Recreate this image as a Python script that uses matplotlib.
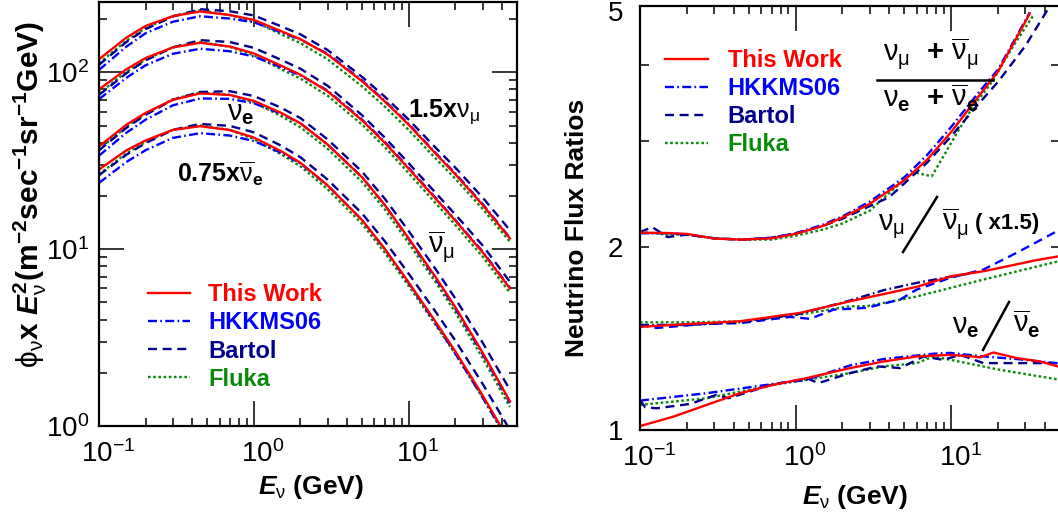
import matplotlib
matplotlib.use('Agg')
import matplotlib.pyplot as plt
from matplotlib.lines import Line2D
from matplotlib.ticker import FixedLocator, FixedFormatter, NullLocator, LogLocator
import matplotlib.transforms as mtrans

plt.rcParams['font.family'] = ['Liberation Sans', 'DejaVu Sans']
plt.rcParams['mathtext.fontset'] = 'custom'
plt.rcParams['mathtext.rm'] = 'Liberation Sans'
plt.rcParams['mathtext.it'] = 'Liberation Sans:italic:bold'
plt.rcParams['mathtext.bf'] = 'Liberation Sans:bold'
plt.rcParams['mathtext.default'] = 'rm'

# ---------------- data : left panel (phi x E^2) ----------------
E_flux = [0.1, 0.15, 0.2, 0.3, 0.45, 0.7, 1, 1.5, 2, 3, 5, 7, 10, 15, 20, 30, 45]

numu15_this   = [118.6, 157, 183, 208, 221, 211, 198, 171, 154, 126, 89, 68.5, 50.5, 34.5, 26.5, 17.8, 11.5]
numu15_hkkms  = [103.2, 139.7, 166.5, 193.4, 207.7, 201.5, 192.1, 168.4, 153.2, 127.3, 89.9, 69.2, 51.0, 34.8, 26.8, 18.0, 11.6]
numu15_bartol = [110.3, 148.4, 175.7, 207.0, 227.6, 221.6, 209.9, 182.1, 164.0, 133.6, 94.3, 72.9, 54.0, 37.3, 28.9, 19.6, 12.8]
numu15_fluka  = [112.7, 150.7, 178.4, 208, 224.3, 211, 194.0, 164.2, 146.3, 118.4, 83.2, 64.1, 47.2, 32.4, 25.0, 16.9, 11.0]

anumu_this   = [80.1, 104, 120.5, 138.5, 147, 140, 128, 109, 97, 78, 53.5, 40.0, 28.5, 19.2, 14.5, 9.6, 6.0]
anumu_hkkms  = [70.5, 93.1, 109.7, 127.4, 136.0, 131.6, 122.9, 106.8, 96.0, 78.8, 54.0, 40.4, 28.8, 19.4, 14.6, 9.7, 6.06]
anumu_bartol = [74.5, 98.8, 116.9, 138.5, 152.1, 148.4, 137.6, 117.7, 104.8, 83.9, 57.2, 42.8, 30.6, 20.7, 15.7, 10.5, 6.54]
anumu_fluka  = [76.1, 100.4, 118.1, 138.5, 148.5, 139.3, 124.8, 104.1, 92.2, 73.7, 50.6, 37.8, 26.9, 18.1, 13.7, 9.07, 5.67]

nue_this   = [38.1, 50.5, 59, 70, 76, 74.5, 69, 59, 51.5, 39, 25.5, 17.8, 11.5, 6.9, 4.7, 2.6, 1.38]
nue_hkkms  = [33.8, 45.5, 54.0, 65.1, 71.2, 70.8, 66.9, 58.4, 51.5, 39, 25.5, 17.8, 11.4, 6.76, 4.61, 2.55, 1.35]
nue_bartol = [36.2, 48.5, 57.5, 70, 77.5, 78.2, 73.5, 63.1, 55.1, 41.7, 27.4, 19.3, 12.65, 7.65, 5.26, 2.96, 1.60]
nue_fluka  = [36.6, 49.2, 58.4, 70.4, 77.1, 74.5, 67.6, 56.6, 48.9, 36.9, 24.0, 16.8, 10.8, 6.45, 4.39, 2.42, 1.28]

anue075_this   = [28.2, 36.2, 41.2, 47.3, 49.6, 47.2, 42.8, 35.8, 30.8, 22.9, 14.6, 10.05, 6.48, 3.85, 2.64, 1.49, 0.81]
anue075_hkkms  = [23.7, 31.1, 36.3, 42.6, 45.3, 43.9, 40.9, 35.1, 30.5, 22.9, 14.6, 10.0, 6.42, 3.77, 2.57, 1.45, 0.79]
anue075_bartol = [26.2, 34.2, 39.8, 47.3, 51.1, 49.8, 45.8, 38.5, 33.1, 24.7, 15.9, 11.1, 7.26, 4.39, 3.04, 1.73, 0.95]
anue075_fluka  = [26.5, 34.8, 40.4, 47.3, 50.1, 47.2, 41.9, 34.4, 29.4, 21.8, 13.9, 9.55, 6.19, 3.70, 2.55, 1.45, 0.79]

# ---------------- data : right panel (ratios) ----------------
# (numu + anumu) / (nue + anue)
E_rt_this = [0.1, 0.15, 0.2, 0.3, 0.45, 0.7, 1, 1.5, 2, 3, 5, 7, 10, 15, 20, 32]
rt_this   = [2.115, 2.112, 2.105, 2.068, 2.06, 2.07, 2.105, 2.17, 2.24, 2.36, 2.58, 2.79, 3.1, 3.55, 3.9, 4.86]
E_rt_hkkms = [0.1, 0.15, 0.2, 0.3, 0.45, 0.7, 1, 1.5, 2, 3, 5, 7, 10, 15, 20, 32]
rt_hkkms   = [2.11, 2.11, 2.1, 2.07, 2.06, 2.075, 2.11, 2.18, 2.25, 2.38, 2.61, 2.84, 3.16, 3.6, 3.93, 4.88]
E_rt_bartol = [0.1, 0.12, 0.15, 0.2, 0.3, 0.45, 0.7, 1, 1.5, 2, 3, 4, 5, 7, 10, 15, 20, 30, 42]
rt_bartol   = [2.12, 2.16, 2.08, 2.1, 2.07, 2.06, 2.075, 2.11, 2.17, 2.23, 2.34, 2.42, 2.55, 2.76, 3.05, 3.45, 3.75, 4.3, 4.95]
E_rt_fluka = [0.1, 0.15, 0.2, 0.3, 0.45, 0.7, 1, 1.5, 2, 3, 4.3, 5.7, 7.5, 10.9, 13.9, 18.3, 25.1, 33.8]
rt_fluka   = [2.12, 2.1, 2.1, 2.07, 2.06, 2.06, 2.09, 2.14, 2.19, 2.3, 2.5, 2.66, 2.62, 3.09, 3.42, 3.75, 4.30, 4.83]

# numu / anumu (x1.5)
E_rm_this = [0.1, 0.2, 0.44, 1.07, 2.24, 3.67, 6.0, 10, 16.1, 25, 35, 50]
rm_this   = [1.479, 1.495, 1.511, 1.56, 1.63, 1.675, 1.722, 1.793, 1.827, 1.87, 1.905, 1.935]
E_rm_hkkms = [0.1, 0.2, 0.44, 1.07, 2.24, 3.67, 6.0, 9.86, 13]
rm_hkkms   = [1.49, 1.49, 1.505, 1.555, 1.635, 1.70, 1.748, 1.789, 1.81]
E_rm_bartol = [0.1, 0.128, 0.268, 0.44, 0.92, 1.24, 1.75, 2.87, 4.7, 6.0, 9.86, 16.1, 26.4, 50]
rm_bartol   = [1.49, 1.473, 1.497, 1.50, 1.536, 1.525, 1.579, 1.59, 1.641, 1.704, 1.782, 1.839, 1.96, 2.14]
E_rm_fluka = [0.1, 0.2, 0.44, 1.07, 2.24, 2.87, 6.0, 16.1, 50]
rm_fluka   = [1.505, 1.505, 1.51, 1.55, 1.6, 1.6, 1.66, 1.77, 1.90]

# nue / anue
E_re_this = [0.1, 0.164, 0.268, 0.44, 0.72, 1.18, 2.24, 3.67, 6.0, 9.86, 13.5, 15.4, 18.7, 26.4, 37.3, 50]
re_this   = [1.015, 1.052, 1.10, 1.15, 1.187, 1.218, 1.265, 1.297, 1.322, 1.33, 1.322, 1.318, 1.342, 1.314, 1.297, 1.27]
E_re_hkkms = [0.1, 0.268, 0.72, 1.18, 2.24, 3.67, 7.7, 9.86, 16.1, 26.4, 50]
re_hkkms   = [1.118, 1.15, 1.191, 1.21, 1.278, 1.309, 1.336, 1.34, 1.322, 1.309, 1.287]
E_re_bartol = [0.1, 0.108, 0.128, 0.21, 0.31, 0.37, 0.72, 1.2, 1.4, 2.24, 3.33, 4.7, 6.64, 8.9, 11.4, 16.1, 50]
re_bartol   = [1.12, 1.09, 1.086, 1.104, 1.143, 1.128, 1.19, 1.215, 1.195, 1.241, 1.273, 1.265, 1.322, 1.305, 1.33, 1.289, 1.289]
E_re_fluka = [0.1, 0.164, 0.268, 0.44, 0.72, 2.24, 3.67, 6.0, 7.7, 12.6, 20.4, 50]
re_fluka   = [1.10, 1.114, 1.128, 1.157, 1.187, 1.241, 1.273, 1.289, 1.322, 1.289, 1.257, 1.21]

models = ['This Work', 'HKKMS06', 'Bartol', 'Fluka']
colors = {'This Work': '#ff0000', 'HKKMS06': '#0000ff', 'Bartol': '#00008c', 'Fluka': '#0a8a0a'}
LW = 1.7
lstyles = {'This Work': '-', 'HKKMS06': (0, (3.8, 1.4, 0.7, 1.4)),
           'Bartol': (0, (3.8, 2.4)), 'Fluka': (0, (1.1, 1.1))}

W, H = 1058, 513
fig = plt.figure(figsize=(W / 100, H / 100), dpi=100)
TICKFS = 20


def P(x, y):
    return x / W, 1 - y / H


def axes_px(x0, y0, x1, y1):
    return fig.add_axes([x0 / W, 1 - y1 / H, (x1 - x0) / W, (y1 - y0) / H])


def style(ax, ylen_major=18, ylen_minor=6):
    for s in ax.spines.values():
        s.set_linewidth(1.6)
    ax.tick_params(axis='x', which='major', direction='in', length=18, width=1.1,
                   top=True, bottom=True, labelsize=TICKFS, pad=10)
    ax.tick_params(axis='x', which='minor', direction='in', length=6, width=1.1,
                   top=True, bottom=True)
    ax.tick_params(axis='y', which='major', direction='in', length=ylen_major, width=1.1,
                   left=True, right=True, labelsize=TICKFS)
    ax.tick_params(axis='y', which='minor', direction='in', length=ylen_minor, width=1.1,
                   left=True, right=True)


# ================= left panel =================
ax1 = axes_px(99, 2, 517, 426)
ax1.set_xscale('log')
ax1.set_yscale('log')
ax1.set_xlim(0.1, 50)
ax1.set_ylim(1, 250)

groups = [
    {'This Work': numu15_this, 'HKKMS06': numu15_hkkms, 'Bartol': numu15_bartol, 'Fluka': numu15_fluka},
    {'This Work': anumu_this, 'HKKMS06': anumu_hkkms, 'Bartol': anumu_bartol, 'Fluka': anumu_fluka},
    {'This Work': nue_this, 'HKKMS06': nue_hkkms, 'Bartol': nue_bartol, 'Fluka': nue_fluka},
    {'This Work': anue075_this, 'HKKMS06': anue075_hkkms, 'Bartol': anue075_bartol, 'Fluka': anue075_fluka},
]
handles = {}
for g in groups:
    for m in ['Fluka', 'Bartol', 'HKKMS06', 'This Work']:
        ln, = ax1.plot(E_flux, g[m], color=colors[m], ls=lstyles[m], lw=LW)
        handles[m] = ln

ax1.yaxis.set_minor_locator(LogLocator(base=10, subs=range(2, 10)))
ax1.xaxis.set_minor_locator(LogLocator(base=10, subs=range(2, 10)))
style(ax1)
ax1.tick_params(axis='y', pad=7)

ax1.set_xlabel(r'$\mathit{E}_{\nu}$' + ' (GeV)', fontsize=19, fontweight='bold')
ax1.xaxis.label.set_va('center')
ax1.xaxis.set_label_coords(0.507, -0.144)
ax1.set_ylabel(r'$\phi_{\nu}$' + 'x ' + r'$\mathit{E}_{\nu}^{\mathbf{2}}$' + '(m' + r'$^{\mathbf{-2}}$'
               + 'sec' + r'$^{\mathbf{-1}}$' + 'sr' + r'$^{\mathbf{-1}}$' + 'GeV)',
               fontsize=21.5, fontweight='bold')
ax1.yaxis.label.set_va('center')
ax1.yaxis.label.set_ha('center')
ax1.yaxis.set_label_coords(-0.165, 0.545)

leg1 = ax1.legend([handles[m] for m in models], models, loc='upper left',
                  bbox_to_anchor=(0.117, 0.337), frameon=False,
                  prop={'weight': 'bold', 'size': 17}, handlelength=1.8,
                  handletextpad=0.75, labelspacing=0.22, borderaxespad=0, borderpad=0,
                  labelcolor=[colors[m] for m in models])

fig.text(*P(408, 117), '1.5x' + r'$\nu_{\mu}$', fontsize=18, fontweight='bold', va='baseline')
fig.text(*P(428, 253), r'$\overline{\nu}_{\mu}$', fontsize=21, va='baseline')
fig.text(*P(227, 120), r'$\nu_{\mathbf{e}}$', fontsize=21, va='baseline')
fig.text(*P(177, 182), '0.75x' + r'$\overline{\nu}_{\mathbf{e}}$', fontsize=18, fontweight='bold', va='baseline')

# ================= right panel =================
ax2 = axes_px(640, 6, 1060, 430)
ax2.set_xscale('log')
ax2.set_yscale('log')
ax2.set_xlim(0.1, 50)
ax2.set_ylim(1, 5)

tops = {'This Work': (E_rt_this, rt_this), 'HKKMS06': (E_rt_hkkms, rt_hkkms),
        'Bartol': (E_rt_bartol, rt_bartol), 'Fluka': (E_rt_fluka, rt_fluka)}
mids = {'This Work': (E_rm_this, rm_this), 'HKKMS06': (E_rm_hkkms, rm_hkkms),
        'Bartol': (E_rm_bartol, rm_bartol), 'Fluka': (E_rm_fluka, rm_fluka)}
bots = {'This Work': (E_re_this, re_this), 'HKKMS06': (E_re_hkkms, re_hkkms),
        'Bartol': (E_re_bartol, re_bartol), 'Fluka': (E_re_fluka, re_fluka)}
for grp, swap in [(tops, False), (mids, True), (bots, False)]:
    for m in ['Fluka', 'Bartol', 'HKKMS06', 'This Work']:
        c = colors[m]
        if swap and m == 'HKKMS06':
            c = colors['Bartol']
        if swap and m == 'Bartol':
            c = colors['HKKMS06']
        ax2.plot(grp[m][0], grp[m][1], color=c, ls=lstyles[m], lw=LW)

ax2.xaxis.set_minor_locator(LogLocator(base=10, subs=range(2, 10)))
ax2.yaxis.set_major_locator(FixedLocator([1, 2, 3, 4, 5]))
ax2.yaxis.set_major_formatter(FixedFormatter(['1', '2', '', '', '5']))
ax2.yaxis.set_minor_locator(NullLocator())
style(ax2, ylen_major=6.5)
ax2.tick_params(axis='y', pad=12)

ax2.set_xlabel(r'$\mathit{E}_{\nu}$' + ' (GeV)', fontsize=19, fontweight='bold')
ax2.xaxis.label.set_va('center')
ax2.xaxis.set_label_coords(0.512, -0.158)
ax2.set_ylabel('Neutrino Flux Ratios', fontsize=19, fontweight='bold')
ax2.yaxis.label.set_va('center')
ax2.yaxis.label.set_ha('center')
ax2.yaxis.set_label_coords(-0.150, 0.476)

leg2 = ax2.legend([handles[m] for m in models], models, loc='upper left',
                  bbox_to_anchor=(0.0596, 0.899), frameon=False,
                  prop={'weight': 'bold', 'size': 17}, handlelength=1.8,
                  handletextpad=0.85, labelspacing=0.22, borderaxespad=0, borderpad=0,
                  labelcolor=[colors[m] for m in models])

# fraction label
fig.text(*P(883, 60), r'$\nu_{\mu}$' + '  + ' + r'$\overline{\nu}_{\mu}$', fontsize=21, fontweight='bold', va='baseline')
fig.add_artist(Line2D([877 / W, 993 / W], [1 - 80 / H, 1 - 80 / H], color='black', lw=1.8))
fig.text(*P(883, 107), r'$\nu_{\mathbf{e}}$' + '  + ' + r'$\overline{\nu}_{\mathbf{e}}$', fontsize=21, fontweight='bold', va='baseline')

# numu / anumu label
fig.text(*P(878, 230), r'$\nu_{\mu}$', fontsize=21, va='baseline')
fig.add_artist(Line2D([903 / W, 937 / W], [1 - 252 / H, 1 - 197 / H], color='black', lw=1.8))
fig.text(*P(942, 230), r'$\overline{\nu}_{\mu}$', fontsize=21, va='baseline')
fig.text(*P(975, 229), '( x1.5)', fontsize=16, fontweight='bold', va='baseline')

# nue / anue label
fig.text(*P(952, 333), r'$\nu_{\mathbf{e}}$', fontsize=21, va='baseline')
fig.add_artist(Line2D([983 / W, 1009 / W], [1 - 350 / H, 1 - 302 / H], color='black', lw=1.8))
fig.text(*P(1013, 333), r'$\overline{\nu}_{\mathbf{e}}$', fontsize=21, va='baseline')

# tick label fine placement (base "10" centred on the tick, top "5" kept inside)
fig.canvas.draw()
off_x = mtrans.ScaledTranslation(9 / 100, 0, fig.dpi_scale_trans)
for ax in (ax1, ax2):
    for t in ax.xaxis.get_major_ticks():
        t.label1.set_transform(t.label1.get_transform() + off_x)
t5 = ax2.yaxis.get_major_ticks()[4]
t5.label1.set_transform(t5.label1.get_transform() + mtrans.ScaledTranslation(0, -5 / 100, fig.dpi_scale_trans))

fig.savefig('out.png', dpi=100)
